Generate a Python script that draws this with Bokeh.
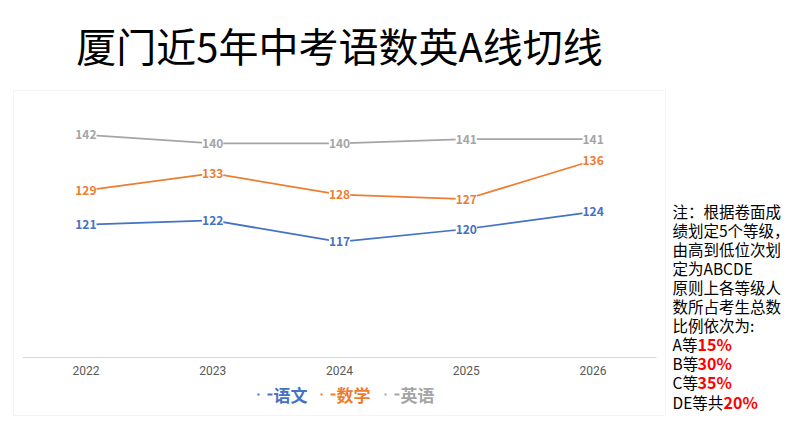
from bokeh.plotting import figure
from bokeh.models import ColumnDataSource, LabelSet, Label, Range1d, BoxAnnotation
from bokeh.embed import file_html
from bokeh.resources import INLINE
from bokeh.core.properties import value

# ---- data ----
years = ["2022", "2023", "2024", "2025", "2026"]
chinese = [121, 122, 117, 120, 124]
math = [129, 133, 128, 127, 136]
english = [142, 140, 140, 141, 141]
series_names = ["语文", "数学", "英语"]
series_colors = ["#4472C4", "#ED7D31", "#A5A5A5"]
y_min, y_max = 90, 150

title_text = "厦门近5年中考语数英A线切线"
note_lines = [
    "注：根据卷面成",
    "绩划定5个等级，",
    "由高到低位次划",
    "定为ABCDE",
    "原则上各等级人",
    "数所占考生总数",
    "比例依次为:",
]
grade_names = ["A等", "B等", "C等", "DE等共"]
grade_shares = ["15%", "30%", "35%", "20%"]

FONT = "Noto Sans CJK SC"
W, H = 801, 423

# plot area inside the canvas (pixels)
PL, PR, PT, PB = 22, 656, 100, 357
n = len(years)
xpx = (PR - PL) / n                      # pixels per category
ypx = (PB - PT) / (y_max - y_min)        # pixels per score point
x_start = -0.5 - PL / xpx
x_end = x_start + W / xpx
y_end = y_max + PT / ypx
y_start = y_end - H / ypx

p = figure(width=W, height=H, x_range=Range1d(x_start, x_end), y_range=Range1d(y_start, y_end),
           output_backend="svg", toolbar_location=None,
           x_axis_location=None, y_axis_location=None,
           min_border=0)
p.outline_line_color = None
p.background_fill_color = "white"
p.border_fill_color = "white"
p.xgrid.grid_line_color = None
p.ygrid.grid_line_color = None


def sy(y):
    # screen y measured from the bottom edge
    return H - y


def screen_box(l, r, t, b, color, line=None):
    return BoxAnnotation(left=l, right=r, top=sy(t), bottom=sy(b),
                         left_units="screen", right_units="screen",
                         top_units="screen", bottom_units="screen",
                         fill_color=color, fill_alpha=1 if line is None else 0,
                         line_color=line, line_width=1)


# outer chart frame
p.add_layout(screen_box(13, 665, 90, 415, None, line="#D9D9D9"))

idx = list(range(n))

# category axis: base line and year labels
p.segment(x0=[-0.5], y0=[y_min], x1=[n - 0.5], y1=[y_min], line_color="#D9D9D9", line_width=1)
p.text(x=idx, y=[y_min] * n, text=years, text_align="center", text_baseline="middle",
       y_offset=13, text_color="#595959", text_font_size="12px", text_font=value("Roboto"))

for vals, color in zip([chinese, math, english], series_colors):
    src = ColumnDataSource(dict(x=idx, y=vals, t=[str(v) for v in vals]))
    p.line("x", "y", source=src, line_color=color, line_width=1.75)
    p.add_layout(LabelSet(x="x", y="y", text="t", source=src,
                          text_align="center", text_baseline="middle",
                          text_color=color, text_font_size="12px",
                          text_font=value(FONT), text_font_style="bold",
                          background_fill_color="white"))

# title
p.add_layout(Label(x=339, y=sy(44), x_units="screen", y_units="screen",
                   text=title_text, text_align="center", text_baseline="middle",
                   text_font=FONT, text_font_size="40px", text_color="#000000"))

# legend: short dash marks followed by the series name
legend_x = [273, 336, 400]
for name, color, lx in zip(series_names, series_colors, legend_x):
    p.add_layout(screen_box(lx - 16, lx - 14, 393, 395, color))
    p.add_layout(screen_box(lx - 6, lx - 1, 393, 395, color))
    p.add_layout(Label(x=lx, y=sy(394), x_units="screen", y_units="screen",
                       text=name, text_align="left", text_baseline="middle",
                       text_font=FONT, text_font_size="17px", text_font_style="bold",
                       text_color=color))

# note on the right
NX, NY0, NDY = 672, 210, 19.1
for i, line in enumerate(note_lines):
    p.add_layout(Label(x=NX, y=sy(NY0 + i * NDY), x_units="screen", y_units="screen",
                       text=line, text_align="left", text_baseline="middle",
                       text_font=FONT, text_font_size="15.5px", text_color="#000000"))
red_x = [697, 697, 697, 723]
for j, (g, s, rx) in enumerate(zip(grade_names, grade_shares, red_x)):
    yy = NY0 + (len(note_lines) + j) * NDY
    p.add_layout(Label(x=NX, y=sy(yy), x_units="screen", y_units="screen",
                       text=g, text_align="left", text_baseline="middle",
                       text_font=FONT, text_font_size="15.5px", text_color="#000000"))
    p.add_layout(Label(x=rx, y=sy(yy), x_units="screen", y_units="screen",
                       text=s, text_align="left", text_baseline="middle",
                       text_font=FONT, text_font_size="16px", text_font_style="bold",
                       text_color="#FF0000"))

open("out.html", "w").write(file_html(p, INLINE))
